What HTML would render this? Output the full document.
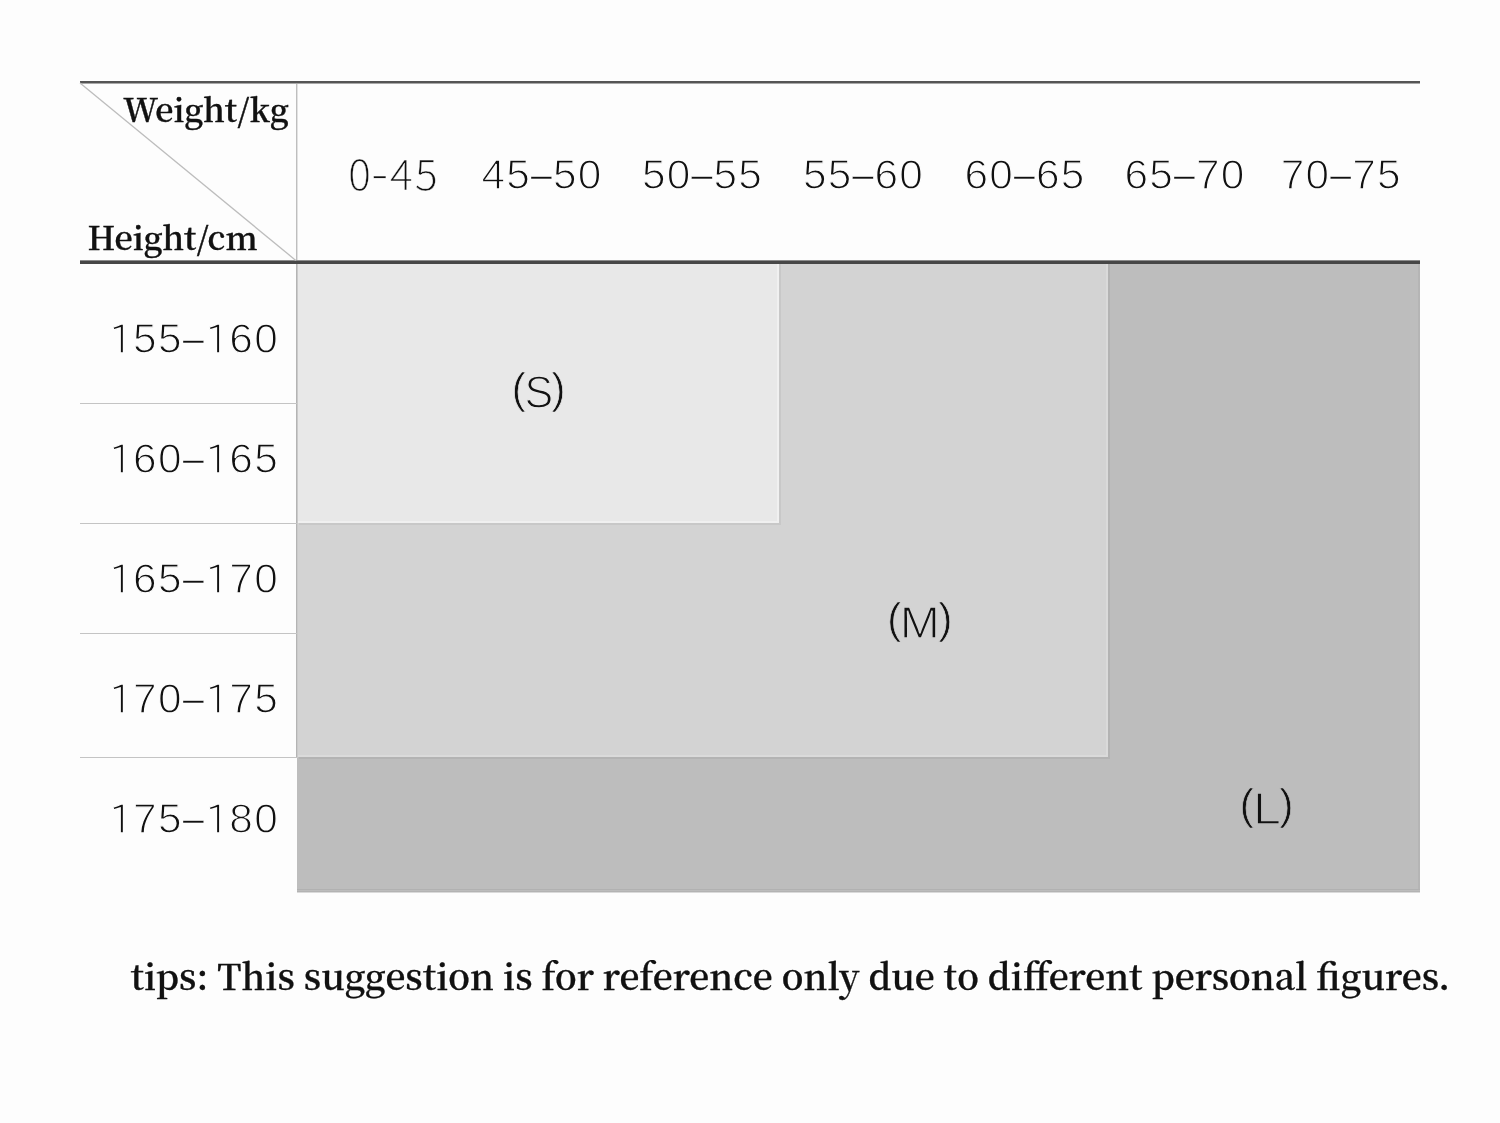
<!DOCTYPE html>
<html lang="en">
<head>
<meta charset="utf-8">
<title>Size chart</title>
<style>
html,body{margin:0;padding:0;}
body{width:1500px;height:1123px;background:#fdfdfd;position:relative;overflow:hidden;
  font-family:"Noto Sans CJK SC","Liberation Sans",sans-serif;color:#111;}
.abs{position:absolute;}
.L{left:297px;top:262px;width:1123px;height:630px;background:#bdbdbd;box-shadow:inset -2px 0 0 rgba(0,0,0,0.04);}
.Lb{left:297px;top:889px;width:1123px;height:4px;background:linear-gradient(to bottom,#b1b1b1 0,#b1b1b1 1px,#bcbcbc 1px,#bcbcbc 2px,#b3b3b3 2px,#b3b3b3 3px,#dadada 3px,#dadada 4px);}
.M{left:297px;top:262px;width:811px;height:495.3px;background:#d3d3d3;box-shadow:inset -2px -2px 0 rgba(255,255,255,0.16),2px 2px 0 rgba(0,0,0,0.05);}
.S{left:297px;top:262px;width:482.3px;height:261px;background:#e8e8e8;box-shadow:inset -2px -2px 0 rgba(255,255,255,0.35),2px 2px 0 rgba(0,0,0,0.05);}
.hl{height:1px;left:80px;width:217px;background:#c4c4c4;}
.num{font-family:"Liberation Sans",sans-serif;font-weight:400;font-size:42.4px;line-height:50px;white-space:nowrap;letter-spacing:1.2px;-webkit-text-stroke:1.3px #fdfdfd;transform:scaleY(1.012);transform-origin:0 75%;}
.one{font-family:"IPAPGothic","IPAGothic","Liberation Sans",sans-serif;font-size:0.89em;margin-right:-1.2px;}
.en{-webkit-text-stroke:0.3px #fdfdfd;font-size:0.88em;position:relative;top:-2.2px;}
.c0{font-family:"Noto Sans CJK SC","Liberation Sans",sans-serif;font-weight:300;font-size:42.2px;letter-spacing:2.5px;-webkit-text-stroke:0.4px #fdfdfd;transform:none;}
.hy{display:inline-block;transform:scaleX(1.2) translateY(-1.4px);}
.sz{font-size:43px;letter-spacing:0;}
.p{-webkit-text-stroke-width:0.7px;position:relative;top:-4.8px;font-size:0.97em;}
.wd{display:inline-block;}
#s{-webkit-text-stroke-color:#e8e8e8;}
#s .p{top:-3.8px;}
#m{-webkit-text-stroke-color:#d3d3d3;}
#l{-webkit-text-stroke-color:#bdbdbd;}
.serif{font-family:"Noto Serif CJK SC","Liberation Serif",serif;font-weight:600;white-space:nowrap;}
</style>
</head>
<body>
<div class="abs L"></div>
<div class="abs Lb"></div>
<div class="abs M"></div>
<div class="abs S"></div>

<div class="abs" style="left:296px;top:83px;width:2px;height:178px;background:linear-gradient(to right,#bebebe 0,#bebebe 1px,#e2e2e2 1px,#e2e2e2 2px);"></div>
<div class="abs" style="left:296px;top:264px;width:2px;height:494px;background:linear-gradient(to right,#b4b4b4 0,#b4b4b4 1px,#cacaca 1px,#cacaca 2px);"></div>
<div class="abs" style="left:80px;top:81px;width:1340px;height:3px;background:linear-gradient(to bottom,#555 0,#555 2px,#a8a8a8 2px,#a8a8a8 3px);"></div>
<div class="abs" style="left:80px;top:260px;width:1340px;height:4px;background:linear-gradient(to bottom,#8c8c8c 0,#8c8c8c 1px,#474747 1px,#474747 4px);"></div>
<svg class="abs" style="left:0;top:0;" width="400" height="300"><line x1="80" y1="83" x2="295.8" y2="260.4" stroke="#bdbdbd" stroke-width="1.3"/></svg>

<div class="abs hl" style="top:403px;"></div>
<div class="abs hl" style="top:523px;"></div>
<div class="abs hl" style="top:633px;"></div>
<div class="abs hl" style="top:757px;"></div>

<div class="abs serif" id="w" style="left:123.3px;top:85.2px;font-size:32.35px;line-height:46px;-webkit-text-stroke:0.4px #111;">Weight/kg</div>
<div class="abs serif" id="h" style="left:87.5px;top:213.2px;font-size:32.35px;line-height:46px;-webkit-text-stroke:0.4px #111;">Height/cm</div>

<div class="abs num c0" id="c0" style="left:348.3px;top:147px;">0<span class="hy">-</span>45</div>
<div class="abs num" id="c1" style="left:481.5px;top:150px;">45<span class="en">–</span>50</div>
<div class="abs num" id="c2" style="left:642px;top:150px;">50<span class="en">–</span>55</div>
<div class="abs num" id="c3" style="left:803px;top:150px;">55<span class="en">–</span>60</div>
<div class="abs num" id="c4" style="left:964.5px;top:150px;">60<span class="en">–</span>65</div>
<div class="abs num" id="c5" style="left:1124.5px;top:150px;">65<span class="en">–</span>70</div>
<div class="abs num" id="c6" style="left:1280.8px;top:150px;">70<span class="en">–</span>75</div>

<div class="abs num" id="r0" style="left:109px;letter-spacing:1.45px;top:314px;"><span class="one">1</span>55<span class="en">–</span><span class="one">1</span>60</div>
<div class="abs num" id="r1" style="left:109px;letter-spacing:1.45px;top:434px;"><span class="one">1</span>60<span class="en">–</span><span class="one">1</span>65</div>
<div class="abs num" id="r2" style="left:109px;letter-spacing:1.45px;top:554px;"><span class="one">1</span>65<span class="en">–</span><span class="one">1</span>70</div>
<div class="abs num" id="r3" style="left:109px;letter-spacing:1.45px;top:674px;"><span class="one">1</span>70<span class="en">–</span><span class="one">1</span>75</div>
<div class="abs num" id="r4" style="left:109px;letter-spacing:1.45px;top:794px;"><span class="one">1</span>75<span class="en">–</span><span class="one">1</span>80</div>

<div class="abs num sz" id="s" style="left:511.7px;top:367.3px;"><span class="p">(</span><span class="wd" style="transform:scaleY(1.05);margin-left:-1px">S</span><span class="p" style="margin-left:-1.75px">)</span></div>
<div class="abs num sz" id="m" style="left:887.3px;top:597.5px;"><span class="p">(</span><span class="wd" style="transform:scale(1.12,1.02);margin:0 1.2px 0 0.4px">M</span><span class="p">)</span></div>
<div class="abs num sz" id="l" style="left:1239.8px;top:783.7px;"><span class="p">(</span><span class="wd" style="transform:translateY(-0.9px) scale(1.17,1.04);margin:0 0.9px 0 1.1px">L</span><span class="p">)</span></div>

<div class="abs serif" id="tips" style="left:130.4px;top:948.7px;font-size:35.5px;line-height:52px;-webkit-text-stroke:0.3px #111;">tips: This suggestion is for reference only due to different personal figures.</div>
</body>
</html>
